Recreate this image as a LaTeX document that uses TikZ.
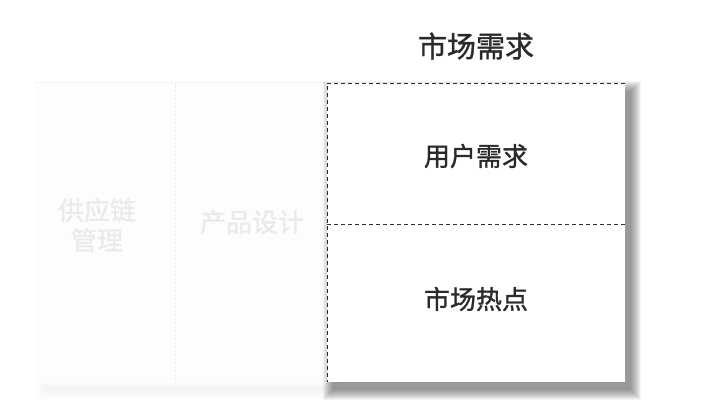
\documentclass[tikz,border=0pt]{standalone}
\usepackage{fontspec}
\setmainfont{Noto Sans CJK SC}
\newfontfamily\cjkmid[FakeBold=1.2]{Noto Sans CJK SC}
\usetikzlibrary{positioning}
\definecolor{ink}{HTML}{2A2A2A}
\definecolor{faint}{HTML}{EAEAEA}
\definecolor{paper}{HTML}{FDFDFD}
\tikzset{
  cutline/.style={ink, line width=0.8pt, dash pattern=on 4pt off 3pt},
  ghostline/.style={faint, line width=0.6pt, dash pattern=on 2pt off 2pt},
  cell/.style={ink, font=\cjkmid\fontsize{26}{30}\selectfont},
  ghostcell/.style={faint, font=\cjkmid\fontsize{26}{30}\selectfont, align=center},
  heading/.style={ink, font=\cjkmid\fontsize{29}{32}\selectfont}
}
\begin{document}
\begin{tikzpicture}[x=1pt, y=-1pt]
  \useasboundingbox (0,0) rectangle (720,416);
  \fill[white] (0,0) rectangle (720,416);

  % faded columns
  \foreach \r in {0,...,10}
    \fill[black, opacity=0.005] (45-\r,388-\r) rectangle (327+\r,390+\r);
  \fill[paper] (35,82) rectangle (327,383);
  \draw[ghostline] (35,82) -- (327,82);
  \draw[ghostline] (175,82) -- (175,383);
  \node[ghostcell] (supply) at (97,225) {供应链\\管理};
  \node[ghostcell] (design) at (252,222) {产品设计};

  % market column with shadow
  \foreach \r in {0,...,10}
    \fill[black, opacity=0.045] (333-\r,91-\r) rectangle (631+\r,390+\r);
  \fill[white] (327,83) rectangle (625,382);
  \coordinate (tl) at (327,83);
  \coordinate (tr) at (625,83);
  \coordinate (bl) at (327,382);
  \coordinate (ml) at (327,224);
  \coordinate (mr) at (625,224);
  \draw[cutline] (tr) -- (tl) -- (bl);
  \draw[cutline] (ml) -- (mr);

  \node[heading] (market) at (476,46) {市场需求};
  \node[cell] (user) at (476,156) {用户需求};
  \node[cell] (hot) at (476,299) {市场热点};
\end{tikzpicture}
\end{document}
